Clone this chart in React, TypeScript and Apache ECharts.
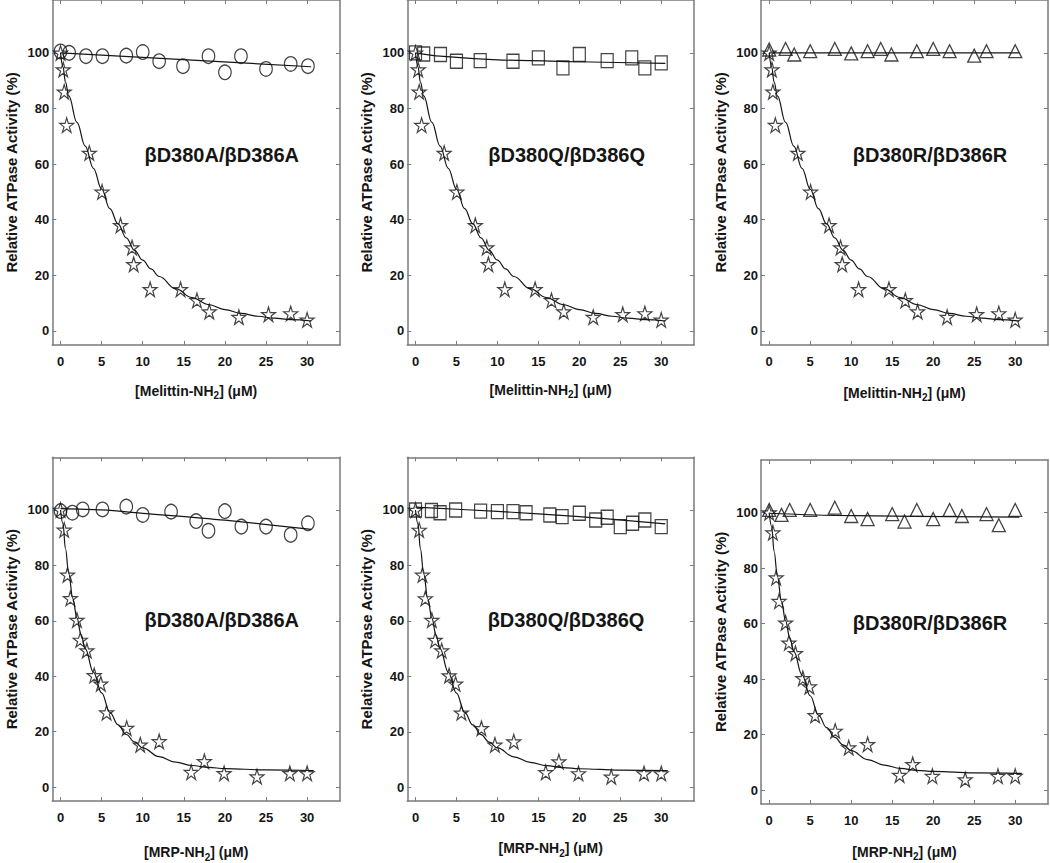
import React, { useEffect, useRef } from "react";
import * as echarts from "echarts";

// ---------- data ----------
const xTicks = [0, 5, 10, 15, 20, 25, 30];
const yTicks = [0, 20, 40, 60, 80, 100];

const melittinStars = [[0, 100], [0.33, 94], [0.45, 86], [0.75, 74], [3.5, 64], [5.05, 50], [7.3, 38], [8.7, 30], [8.9, 24], [10.9, 15], [14.6, 15], [16.6, 11], [18.1, 7], [21.7, 5], [25.3, 6], [28, 6.3], [30, 4]];
const melittinFit = [[0, 100], [0.3, 95], [0.6, 89.5], [1, 84.5], [2, 75], [3, 66.5], [4, 58.5], [5, 51], [6, 44], [7, 38.5], [8, 33.5], [9, 29], [10, 25.5], [11, 22.3], [12, 19.6], [14, 15.2], [16, 12], [18, 9.5], [20, 7.7], [22, 6.3], [24, 5.3], [26, 4.6], [28, 4.1], [30.5, 3.6]];

const mrpStars = [[0, 100], [0.45, 92.8], [0.85, 76.6], [1.2, 68.1], [2.0, 60.3], [2.4, 53.1], [3.2, 49.3], [4.1, 40.3], [4.9, 37.3], [5.6, 26.9], [8.05, 21.3], [9.7, 15.3], [12, 16.5], [15.9, 5.4], [17.5, 9.3], [19.9, 5], [23.9, 3.8], [27.9, 5], [30, 5]];
const mrpFit = [[0, 100], [0.3, 95], [0.6, 86], [1, 77], [1.5, 68], [2, 61], [2.5, 55], [3, 50], [4, 41.5], [5, 34], [6, 27], [7, 22.5], [8, 19], [9, 16.3], [10, 14.2], [12, 11], [14, 9], [16, 7.8], [18, 7.1], [20, 6.7], [25, 6.2], [30.8, 6]];

const melA = [[0, 100.5], [1.05, 100], [3.1, 98.8], [5.1, 98.8], [8, 99], [10, 100.3], [12, 97], [14.9, 95.2], [18, 98.8], [20, 93], [21.95, 98.8], [25, 94.2], [28, 96], [30.1, 95.2]];
const melAFit = [[0, 100], [30.5, 95]];
const melQ = [[0, 100], [1, 99.6], [3.05, 99.4], [5, 97], [7.9, 97.2], [11.9, 97], [15, 98.2], [18, 94.6], [20, 99.4], [23.4, 97.2], [26.4, 98.2], [28, 94.6], [30, 96.4]];
const melQFit = [[0, 100], [3, 98.8], [10, 97.5], [20, 96.8], [30.5, 96.2]];
const melR = [[0, 101.2], [2, 101.4], [3.05, 99.4], [5, 100.6], [8, 101.4], [10, 99.8], [12, 100.6], [13.6, 101.4], [14.9, 99.4], [18, 100.6], [20, 101.4], [22, 100.6], [25, 99], [26.5, 100.6], [30, 100.6]];
const melRFit = [[0, 100], [30.5, 100]];

const mrpA = [[0, 99.6], [1.45, 99], [2.7, 100.2], [5.1, 100.2], [8, 101.2], [10, 98.2], [13.45, 99.4], [16.5, 96], [18, 92.5], [20, 99.6], [22, 94], [25, 94], [28, 91], [30.1, 95.2]];
const mrpAFit = [[0, 100.5], [5, 100], [10, 98.8], [20, 96.3], [30.5, 93]];
const mrpQ = [[0, 100], [1.95, 99.8], [3, 99], [4.9, 100], [7.95, 99.6], [10, 99.4], [11.9, 99.4], [13.5, 99], [16.4, 98.2], [17.9, 97.6], [20, 98.8], [22, 96.4], [23.4, 97.4], [25, 94], [26.5, 95.2], [28, 96.4], [30, 94]];
const mrpQFit = [[0, 101], [10, 99.5], [20, 97.6], [30.5, 95]];
const mrpR = [[0, 101], [1.5, 99.2], [2.5, 101], [5, 101], [8, 101.8], [10, 98.8], [12, 97.7], [15, 99.5], [16.5, 96.8], [18, 101], [20, 97.7], [22, 101], [23.5, 98.8], [26.5, 99.5], [28, 95.5], [30, 101]];
const mrpRFit = [[0, 99.8], [8, 99], [30.5, 98.4]];

const labels = ["βD380A/βD386A", "βD380Q/βD386Q", "βD380R/βD386R"];
const yTitle = "Relative ATPase Activity (%)";

// ---------- styling / layout ----------
const FONT = '"Liberation Sans", Arial, sans-serif';
const STAR = "path://M50,0 L61.23,34.55 L97.55,34.55 L68.17,55.9 L79.39,90.45 L50,69.1 L20.61,90.45 L31.83,55.9 L2.45,34.55 L38.77,34.55 Z";
const FRAME = "#7a7a7a";
const INK = "#151515";

const symbols = {
  circle: { symbol: "circle", size: [12.5, 14.5] },
  square: { symbol: "rect", size: [12, 14] },
  triangle: { symbol: "triangle", size: [13, 13] },
};

const panels = [
  { grid: { left: 52.3, top: -1.5, width: 287.7, height: 346.4 }, pep: "Melittin", mut: melA, mutFit: melAFit, sym: "circle", stars: melittinStars, fit: melittinFit, label: labels[0], lx: 221.7, ly: 155, gap: 36 },
  { grid: { left: 407.3, top: -1.5, width: 286.7, height: 346.4 }, pep: "Melittin", mut: melQ, mutFit: melQFit, sym: "square", stars: melittinStars, fit: melittinFit, label: labels[1], lx: 566.7, ly: 155, gap: 35 },
  { grid: { left: 761, top: -1.5, width: 287, height: 346.4 }, pep: "Melittin", mut: melR, mutFit: melRFit, sym: "triangle", stars: melittinStars, fit: melittinFit, label: labels[2], lx: 930, ly: 155, gap: 38 },
  { grid: { left: 52.3, top: 457.3, width: 287.7, height: 343.9 }, pep: "MRP", mut: mrpA, mutFit: mrpAFit, sym: "circle", stars: mrpStars, fit: mrpFit, label: labels[0], lx: 221.7, ly: 620, gap: 41 },
  { grid: { left: 407.3, top: 457.3, width: 286.7, height: 343.9 }, pep: "MRP", mut: mrpQ, mutFit: mrpQFit, sym: "square", stars: mrpStars, fit: mrpFit, label: labels[1], lx: 566, ly: 620, gap: 37 },
  { grid: { left: 761, top: 460, width: 287, height: 343.9 }, pep: "MRP", mut: mrpR, mutFit: mrpRFit, sym: "triangle", stars: mrpStars, fit: mrpFit, label: labels[2], lx: 930, ly: 622.7, gap: 38 },
];

function buildOption() {
  const grid: any[] = [];
  const xAxis: any[] = [];
  const yAxis: any[] = [];
  const series: any[] = [];
  const graphic: any[] = [];
  const line = { show: true, onZero: false, lineStyle: { color: FRAME, width: 1.5 } };
  const tickX = { show: true, inside: true, length: 4, customValues: xTicks, lineStyle: { color: FRAME, width: 1 } };
  const tickY = { show: true, inside: true, length: 4, customValues: yTicks, lineStyle: { color: FRAME, width: 1 } };
  const lbl = { fontFamily: FONT, fontWeight: "bold", fontSize: 13, color: INK };

  panels.forEach((p, i) => {
    grid.push({ ...p.grid });
    const xb = {
      type: "value", gridIndex: i, min: -1, max: 34, position: "bottom",
      axisLine: line, axisTick: tickX, splitLine: { show: false },
      axisLabel: { ...lbl, margin: 10, customValues: xTicks },
      name: `{a|[${p.pep}-NH}{s|2}{a|] (μM)}`,
      nameLocation: "middle", nameGap: p.gap,
      nameTextStyle: {
        fontFamily: FONT, fontWeight: "bold", fontSize: 14, color: INK,
        rich: {
          a: { fontFamily: FONT, fontWeight: "bold", fontSize: 14, color: INK, lineHeight: 20 },
          s: { fontFamily: FONT, fontWeight: "bold", fontSize: 10, color: INK, lineHeight: 10, verticalAlign: "bottom" },
        },
      },
    };
    const xt = {
      type: "value", gridIndex: i, min: -1, max: 34, position: "top",
      axisLine: line, axisTick: tickX, splitLine: { show: false }, axisLabel: { show: false },
    };
    const yl = {
      type: "value", gridIndex: i, min: -5, max: 119, position: "left",
      axisLine: line, axisTick: tickY, splitLine: { show: false },
      axisLabel: { ...lbl, margin: 3, customValues: yTicks },
      name: yTitle, nameLocation: "middle", nameGap: 33,
      nameTextStyle: { fontFamily: FONT, fontWeight: "bold", fontSize: 15, color: INK },
    };
    const yr = {
      type: "value", gridIndex: i, min: -5, max: 119, position: "right",
      axisLine: line, axisTick: tickY, splitLine: { show: false }, axisLabel: { show: false },
    };
    xAxis.push(xb, xt);
    yAxis.push(yl, yr);
    const xi = 2 * i;
    const yi = 2 * i;
    const s = symbols[p.sym];
    series.push({
      type: "line", xAxisIndex: xi, yAxisIndex: yi, data: p.mutFit, showSymbol: false, smooth: 0.3,
      lineStyle: { color: INK, width: 1.2 }, silent: true,
    });
    series.push({
      type: "line", xAxisIndex: xi, yAxisIndex: yi, data: p.fit, showSymbol: false, smooth: 0.4, smoothMonotone: "x",
      lineStyle: { color: INK, width: 1.2 }, silent: true,
    });
    series.push({
      type: "scatter", xAxisIndex: xi, yAxisIndex: yi, data: p.mut, symbol: s.symbol, symbolSize: s.size,
      itemStyle: { color: "transparent", borderColor: INK, borderWidth: 1.3 },
    });
    series.push({
      type: "scatter", xAxisIndex: xi, yAxisIndex: yi, data: p.stars, symbol: STAR, symbolSize: [14, 14.5],
      itemStyle: { color: "transparent", borderColor: INK, borderWidth: 1.2 },
    });
    graphic.push({
      type: "text", x: p.lx, y: p.ly,
      style: {
        text: p.label, font: `bold 20px ${FONT}`, fill: INK,
        textAlign: "center", textVerticalAlign: "middle", align: "center", verticalAlign: "middle",
      },
    });
  });

  return { animation: false, backgroundColor: "#ffffff", grid, xAxis, yAxis, series, graphic };
}

export default function App() {
  const ref = useRef<HTMLDivElement>(null);
  useEffect(() => {
    if (!ref.current) return;
    const chart = echarts.init(ref.current, null, { renderer: "svg" });
    chart.setOption(buildOption() as any);
    return () => chart.dispose();
  }, []);
  return (
    <div
      ref={ref}
      style={{ position: "fixed", left: 0, top: 0, width: 1050, height: 863, background: "#fff" }}
    />
  );
}
